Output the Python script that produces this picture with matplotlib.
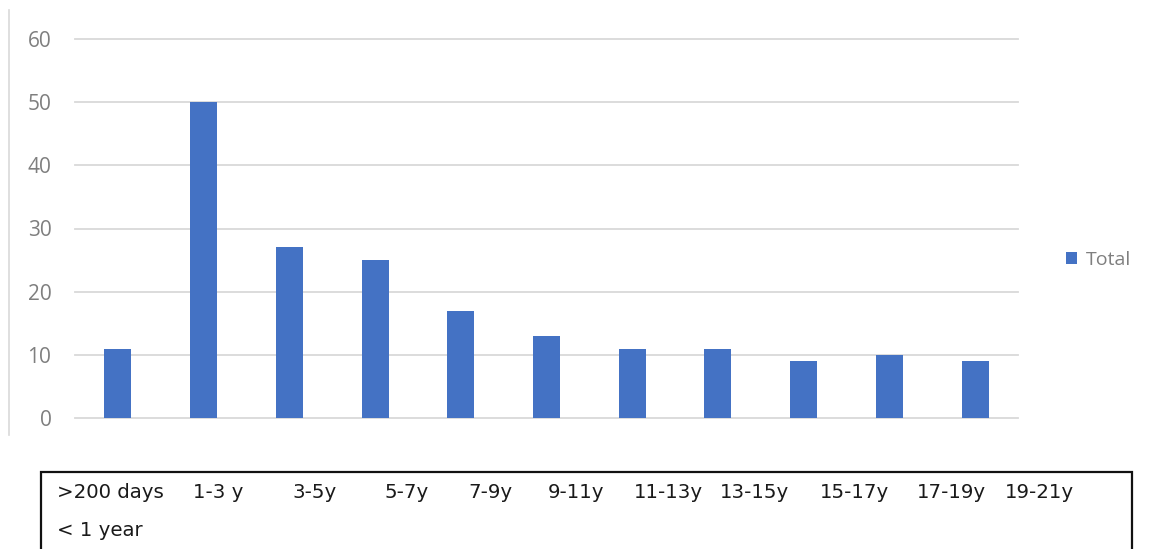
import matplotlib
matplotlib.use("Agg")
import matplotlib.pyplot as plt
from matplotlib.patches import Rectangle
from matplotlib.lines import Line2D

# Data
categories = [">200 days", "1-3 y", "3-5y", "5-7y", "7-9y", "9-11y",
              "11-13y", "13-15y", "15-17y", "17-19y", "19-21y"]
totals = [11, 50, 27, 25, 17, 13, 11, 11, 9, 10, 9]
y_ticks = [0, 10, 20, 30, 40, 50, 60]
series_name = "Total"
extra_label = "< 1 year"

W, H = 1153, 549
fig = plt.figure(figsize=(W / 100, H / 100), dpi=100)
fig.patch.set_facecolor("white")

# Plot area in pixel terms
x0, x1 = 75, 1018
y_top, y_bot = 39, 418
ax = fig.add_axes([x0 / W, (H - y_bot) / H, (x1 - x0) / W, (y_bot - y_top) / H])

bar_color = "#4472C4"
grid_color = "#d9d9d9"
tick_color = "#7f7f7f"

xs = list(range(len(categories)))
ax.bar(xs, totals, width=0.315, color=bar_color, zorder=3, label=series_name)

ax.set_xlim(-0.5, len(categories) - 0.5)
ax.set_ylim(0, 60)
ax.set_yticks(y_ticks)
ax.set_yticklabels([str(t) for t in y_ticks], family="Open Sans", fontsize=15,
                   color=tick_color)
ax.tick_params(axis="y", length=0, pad=17)
ax.set_xticks([])
ax.yaxis.grid(True, color=grid_color, linewidth=1.3, zorder=0)
for gl in ax.get_ygridlines():
    gl.set_clip_on(False)
ax.set_axisbelow(True)
for s in ax.spines.values():
    s.set_visible(False)

# Legend
leg = ax.legend(loc="center left", bbox_to_anchor=(1052 / W, (H - 260) / H),
                bbox_transform=fig.transFigure, frameon=False,
                handlelength=0.6, handleheight=0.6, handletextpad=0.45,
                borderpad=0.2,
                prop={"family": "Open Sans", "size": 14})
for t in leg.get_texts():
    t.set_color(tick_color)

# Thin chart-area edge on the left
fig.add_artist(Line2D([9 / W, 9 / W], [(H - 435) / H, (H - 10) / H],
                      transform=fig.transFigure, color=grid_color, linewidth=1.2))

# Category label box below the chart
box_l, box_r, box_t = 41, 1132, 472
fig.add_artist(Rectangle((box_l / W, -0.05), (box_r - box_l) / W,
                         (H - box_t) / H + 0.05, transform=fig.transFigure,
                         fill=False, edgecolor="#111111", linewidth=1.6))

label_lefts = [57, 193, 292, 385, 468, 548, 634, 720, 820, 917, 1005]
for lbl, lx in zip(categories, label_lefts):
    fig.text(lx / W, (H - 492) / H, lbl, ha="left", va="center",
             family="DejaVu Sans", fontsize=14.2, color="#1a1a1a")
fig.text(57 / W, (H - 530) / H, extra_label, ha="left", va="center",
         family="DejaVu Sans", fontsize=14.2, color="#1a1a1a")

fig.savefig("out.png", dpi=100, facecolor="white")
